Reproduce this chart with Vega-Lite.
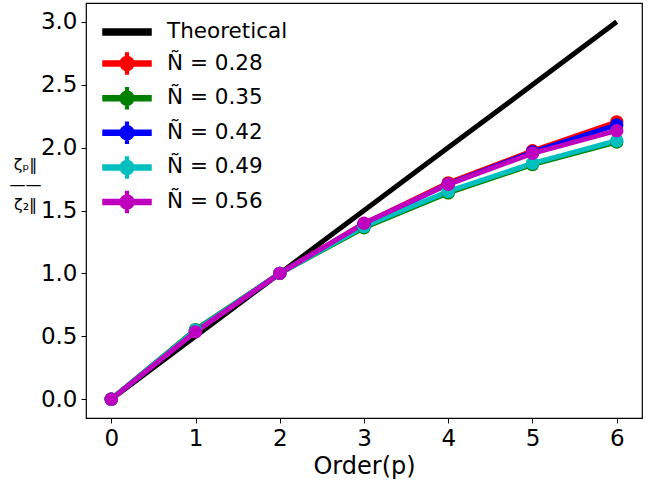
{
  "$schema": "https://vega.github.io/schema/vega-lite/v6.json",
  "width": 556,
  "height": 415,
  "autosize": {"type": "none"},
  "padding": {"left": 86, "top": 3, "right": 15, "bottom": 69},
  "background": "white",
  "config": {
    "font": "DejaVu Sans",
    "view": {"stroke": "black", "strokeWidth": 1.2},
    "axis": {
      "grid": false,
      "domain": false,
      "tickColor": "black",
      "tickSize": 5,
      "tickWidth": 1,
      "labelColor": "black",
      "labelFont": "DejaVu Sans",
      "labelFontSize": 23,
      "titleColor": "black",
      "titleFont": "DejaVu Sans",
      "titleFontWeight": "normal"
    }
  },
  "data": {
    "values": [
      {"p": 0, "series": "Theoretical", "v": 0},
      {"p": 1, "series": "Theoretical", "v": 0.5},
      {"p": 2, "series": "Theoretical", "v": 1.0},
      {"p": 3, "series": "Theoretical", "v": 1.5},
      {"p": 4, "series": "Theoretical", "v": 2.0},
      {"p": 5, "series": "Theoretical", "v": 2.5},
      {"p": 6, "series": "Theoretical", "v": 3.0},
      {"p": 0, "series": "Ñ = 0.28", "v": 0},
      {"p": 1, "series": "Ñ = 0.28", "v": 0.54},
      {"p": 2, "series": "Ñ = 0.28", "v": 1.0},
      {"p": 3, "series": "Ñ = 0.28", "v": 1.395},
      {"p": 4, "series": "Ñ = 0.28", "v": 1.72},
      {"p": 5, "series": "Ñ = 0.28", "v": 1.975},
      {"p": 6, "series": "Ñ = 0.28", "v": 2.205},
      {"p": 0, "series": "Ñ = 0.35", "v": 0},
      {"p": 1, "series": "Ñ = 0.35", "v": 0.553},
      {"p": 2, "series": "Ñ = 0.35", "v": 1.0},
      {"p": 3, "series": "Ñ = 0.35", "v": 1.363},
      {"p": 4, "series": "Ñ = 0.35", "v": 1.64},
      {"p": 5, "series": "Ñ = 0.35", "v": 1.865},
      {"p": 6, "series": "Ñ = 0.35", "v": 2.045},
      {"p": 0, "series": "Ñ = 0.42", "v": 0},
      {"p": 1, "series": "Ñ = 0.42", "v": 0.54},
      {"p": 2, "series": "Ñ = 0.42", "v": 1.0},
      {"p": 3, "series": "Ñ = 0.42", "v": 1.39},
      {"p": 4, "series": "Ñ = 0.42", "v": 1.71},
      {"p": 5, "series": "Ñ = 0.42", "v": 1.965},
      {"p": 6, "series": "Ñ = 0.42", "v": 2.18},
      {"p": 0, "series": "Ñ = 0.49", "v": 0},
      {"p": 1, "series": "Ñ = 0.49", "v": 0.548},
      {"p": 2, "series": "Ñ = 0.49", "v": 1.0},
      {"p": 3, "series": "Ñ = 0.49", "v": 1.373},
      {"p": 4, "series": "Ñ = 0.49", "v": 1.652},
      {"p": 5, "series": "Ñ = 0.49", "v": 1.875},
      {"p": 6, "series": "Ñ = 0.49", "v": 2.055},
      {"p": 0, "series": "Ñ = 0.56", "v": 0},
      {"p": 1, "series": "Ñ = 0.56", "v": 0.535},
      {"p": 2, "series": "Ñ = 0.56", "v": 1.0},
      {"p": 3, "series": "Ñ = 0.56", "v": 1.398},
      {"p": 4, "series": "Ñ = 0.56", "v": 1.708},
      {"p": 5, "series": "Ñ = 0.56", "v": 1.955},
      {"p": 6, "series": "Ñ = 0.56", "v": 2.135}
    ]
  },
  "encoding": {
    "x": {
      "field": "p",
      "type": "quantitative",
      "scale": {"domain": [-0.3, 6.3], "nice": false, "zero": false},
      "axis": {
        "values": [0, 1, 2, 3, 4, 5, 6],
        "format": "d",
        "labelPadding": 4,
        "title": "Order(p)",
        "titleFontSize": 24,
        "titlePadding": 4
      }
    },
    "y": {
      "field": "v",
      "type": "quantitative",
      "scale": {"domain": [-0.15, 3.15], "nice": false, "zero": false},
      "axis": {
        "values": [0, 0.5, 1, 1.5, 2, 2.5, 3],
        "format": ".1f",
        "labelPadding": 4,
        "title": ["ζₚ‖", "——", "ζ₂‖"],
        "titleFontSize": 16,
        "titleAngle": 0,
        "titleLineHeight": 20,
        "titleAlign": "center",
        "titleBaseline": "middle",
        "titleX": -61,
        "titleY": 161
      }
    },
    "color": {
      "field": "series",
      "type": "nominal",
      "scale": {
        "domain": ["Theoretical", "Ñ = 0.28", "Ñ = 0.35", "Ñ = 0.42", "Ñ = 0.49", "Ñ = 0.56"],
        "range": ["#000000", "#ff0000", "#008000", "#0000ff", "#00bfbf", "#bf00bf"]
      },
      "legend": {
        "title": null,
        "orient": "none",
        "legendX": 25,
        "legendY": 13,
        "symbolSize": 900,
        "rowPadding": 4.6,
        "labelOffset": 24,
        "labelFontSize": 21.5,
        "labelColor": "black",
        "labelFont": "DejaVu Sans",
        "encode": {
          "symbols": {
            "update": {
              "fill": {"scale": "color", "field": "value"},
              "stroke": {"value": "transparent"},
              "opacity": {"value": 1},
              "shape": {"signal": "datum.value === 'Theoretical' ? 'M-1.6,-0.2H1.6V0.2H-1.6Z' : 'M-1.6,-0.167H1.6V0.167H-1.6Z M0.467,0A0.467,0.467,0,1,1,-0.467,0A0.467,0.467,0,1,1,0.467,0Z M-0.09,-0.7H0.09V0.7H-0.09Z'"}
            }
          }
        }
      }
    }
  },
  "layer": [
    {
      "mark": {"type": "line", "strokeWidth": 5, "strokeCap": "butt"}
    },
    {
      "transform": [{"filter": "datum.series !== 'Theoretical'"}],
      "mark": {"type": "point", "filled": true, "shape": "circle", "size": 180, "opacity": 1}
    }
  ]
}
